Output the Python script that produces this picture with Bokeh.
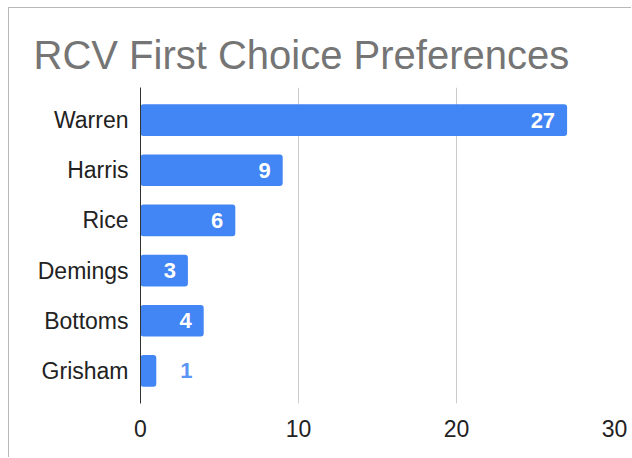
from bokeh.plotting import figure
from bokeh.models import ColumnDataSource, FactorRange, Range1d, FixedTicker
from bokeh.core.properties import value
from bokeh.embed import file_html
from bokeh.resources import INLINE

title = "RCV First Choice Preferences"
candidates = ["Warren", "Harris", "Rice", "Demings", "Bottoms", "Grisham"]
votes = [27, 9, 6, 3, 4, 1]
x_ticks = [0, 10, 20, 30]

FONT = "Liberation Sans"
BLUE = "#4285F4"

src = ColumnDataSource(dict(name=candidates, votes=votes))
inside = ColumnDataSource(dict(name=[n for n, v in zip(candidates, votes) if v >= 2],
                               votes=[v for v in votes if v >= 2],
                               label=[str(v) for v in votes if v >= 2]))
outside = ColumnDataSource(dict(name=[n for n, v in zip(candidates, votes) if v < 2],
                                votes=[v for v in votes if v < 2],
                                label=[str(v) for v in votes if v < 2]))

p = figure(width=623, height=450, output_backend="svg", toolbar_location=None,
           y_range=FactorRange(factors=list(reversed(candidates)), range_padding=0.05),
           x_range=Range1d(0, 30),
           min_border_left=131, min_border_right=18, min_border_top=79, min_border_bottom=55)
p.styles = {"margin-left": "8px", "margin-top": "7px",
            "border-top": "1px solid #b8b8b8", "border-left": "1px solid #b8b8b8"}

p.title.text = title
p.title.text_font = FONT
p.title.text_font_size = "40px"
p.title.text_font_style = "normal"
p.title.text_color = "#757575"
p.title.align = "left"
p.title.offset = -107
p.title.standoff = 21

p.outline_line_color = None
p.background_fill_color = "white"
p.border_fill_color = "white"

p.hbar(y="name", right="votes", left=0, height=0.63, source=src,
       fill_color=BLUE, line_color=None, border_radius=3)

p.text(x="votes", y="name", text="label", source=inside, x_offset=-12,
       text_align="right", text_baseline="middle", text_color="white",
       text_font=value(FONT), text_font_size="22px", text_font_style="bold")
p.text(x="votes", y="name", text="label", source=outside, x_offset=24,
       text_align="left", text_baseline="middle", text_color="#5a95f5",
       text_font=value(FONT), text_font_size="22px", text_font_style="bold")

p.xaxis.ticker = FixedTicker(ticks=x_ticks)
p.xgrid.ticker = FixedTicker(ticks=x_ticks)
p.xgrid.grid_line_color = "#cccccc"
p.ygrid.grid_line_color = None
p.xaxis.axis_line_color = None
p.xaxis.major_tick_line_color = None
p.xaxis.minor_tick_line_color = None
p.xaxis.major_label_text_font = FONT
p.xaxis.major_label_text_font_size = "23px"
p.xaxis.major_label_text_color = "#222222"
p.xaxis.major_label_standoff = 10

p.yaxis.axis_line_color = "#333333"
p.yaxis.major_tick_line_color = None
p.yaxis.minor_tick_line_color = None
p.yaxis.major_label_text_font = FONT
p.yaxis.major_label_text_font_size = "23px"
p.yaxis.major_label_text_color = "#222222"
p.yaxis.major_label_standoff = 6

open("out.html", "w").write(file_html(p, INLINE))
